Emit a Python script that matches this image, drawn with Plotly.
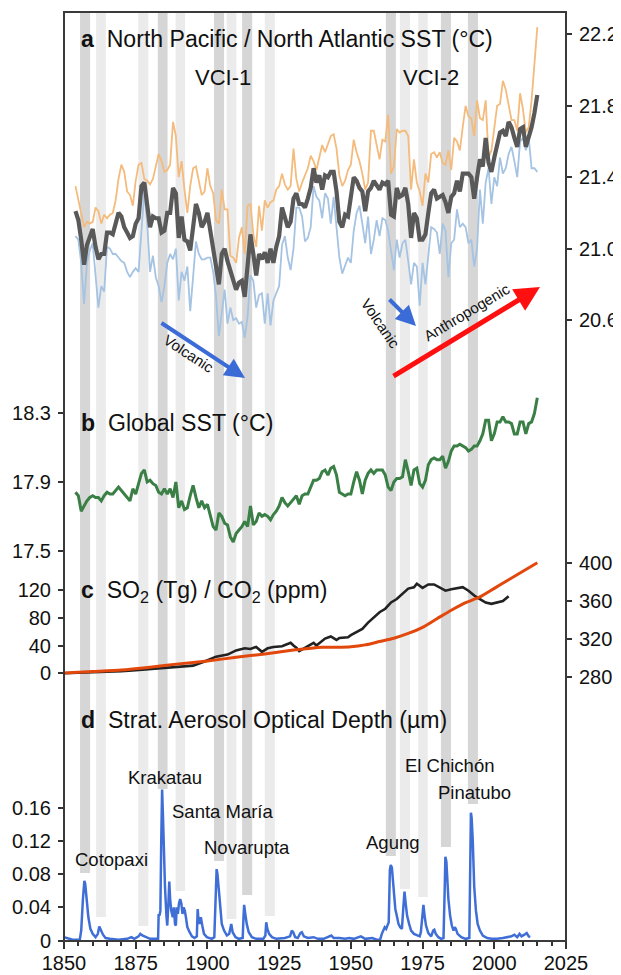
import plotly.graph_objects as go

FONT = "Liberation Sans, Arial, Helvetica, sans-serif"

# ---------------- data ----------------
years_sst = list(range(1854, 2016))

# panel a: North Pacific / North Atlantic SST (deg C)
sst_orange = [
    21.35, 21.27, 21.18, 21.12, 21.15, 21.14, 21.15, 21.23, 21.21, 21.14,
    21.19, 21.17, 21.19, 21.20, 21.27, 21.39, 21.47, 21.43, 21.32, 21.30,
    21.24, 21.38, 21.47, 21.48, 21.39, 21.38, 21.36, 21.39, 21.46, 21.53,
    21.49, 21.43, 21.44, 21.47, 21.71, 21.63, 21.40, 21.49, 21.33, 21.20,
    21.35, 21.45, 21.46, 21.38, 21.30, 21.32, 21.45, 21.35, 21.31, 21.16,
    21.14, 21.33, 21.22, 21.22, 20.96, 20.95, 20.92, 21.06, 21.12, 20.97,
    21.24, 21.25, 21.08, 21.01, 21.24, 21.10, 21.27, 21.23, 21.26, 21.27,
    21.33, 21.35, 21.42, 21.36, 21.33, 21.35, 21.56, 21.39, 21.32, 21.37,
    21.41, 21.45, 21.52, 21.49, 21.44, 21.51, 21.58, 21.54, 21.59, 21.63,
    21.64, 21.56, 21.41, 21.35, 21.38, 21.44, 21.47, 21.61, 21.54, 21.49,
    21.42, 21.33, 21.37, 21.66, 21.66, 21.57, 21.50, 21.61, 21.60, 21.75,
    21.42, 21.46, 21.67, 21.65, 21.66, 21.66, 21.63, 21.33, 21.50, 21.37,
    21.32, 21.24, 21.42, 21.37, 21.53, 21.54, 21.51, 21.54, 21.48, 21.47,
    21.55, 21.44, 21.62, 21.60, 21.55, 21.68, 21.80, 21.74, 21.73, 21.63,
    21.83, 21.73, 21.72, 21.83, 21.51, 21.55, 21.68, 21.80, 21.81, 21.94,
    21.89, 21.80, 21.72, 21.72, 21.66, 21.87, 21.78, 21.65, 21.68, 21.83,
    22.04, 22.24,
]
sst_blue = [
    21.07, 21.05, 20.92, 20.69, 20.92, 20.99, 21.03, 20.84, 20.67, 20.79,
    20.76, 21.01, 21.00, 20.97, 20.97, 20.95, 20.93, 20.92, 20.87, 20.84,
    20.87, 20.89, 20.87, 21.10, 21.32, 21.14, 20.87, 20.96, 20.84, 20.79,
    20.70, 20.79, 20.92, 20.97, 20.94, 21.00, 20.71, 20.87, 20.82, 20.90,
    20.65, 20.84, 21.04, 20.97, 20.94, 20.94, 20.95, 20.95, 20.87, 20.73,
    20.51, 20.64, 20.77, 20.58, 20.67, 20.60, 20.61, 20.58, 20.59, 20.50,
    20.62, 20.85, 20.82, 20.67, 20.74, 20.75, 20.58, 20.75, 20.57, 20.71,
    20.75, 20.79, 21.02, 21.07, 20.95, 20.88, 21.00, 21.23, 21.23, 21.18,
    21.04, 21.06, 21.12, 21.35, 21.29, 21.27, 21.17, 21.31, 21.28, 21.14,
    21.29, 21.10, 20.95, 20.86, 20.90, 20.95, 20.92, 21.10, 21.20, 21.24,
    21.14, 21.03, 21.18, 20.97, 21.05, 21.16, 21.07, 21.17, 21.16, 21.10,
    20.99, 20.88, 21.05, 20.95, 21.03, 21.05, 20.93, 20.80, 20.92, 20.90,
    20.68, 20.92, 20.80, 20.96, 21.12, 21.11, 21.09, 20.97, 21.14, 21.10,
    20.84, 21.03, 21.05, 21.22, 21.12, 21.14, 21.12, 21.03, 21.05, 20.90,
    21.00, 21.33, 21.14, 21.37, 21.45, 21.25, 21.40, 21.35, 21.51, 21.42,
    21.45, 21.53, 21.57, 21.49, 21.40, 21.60, 21.62, 21.55, 21.62, 21.45,
    21.45, 21.43,
]
sst_mean = [
    21.21, 21.16, 21.05, 20.91, 21.02, 21.06, 21.11, 21.01, 20.94, 20.97,
    20.97, 21.09, 21.09, 21.08, 21.14, 21.20, 21.18, 21.12, 21.09, 21.06,
    21.07, 21.14, 21.17, 21.35, 21.37, 21.25, 21.12, 21.18, 21.17, 21.17,
    21.09, 21.10, 21.20, 21.20, 21.34, 21.31, 21.06, 21.18, 21.05, 21.04,
    20.99, 21.12, 21.25, 21.20, 21.12, 21.15, 21.20, 21.10, 21.01, 20.90,
    20.80, 20.97, 21.00, 20.93, 20.87, 20.81, 20.77, 20.81, 20.82, 20.73,
    20.92, 21.08, 20.97, 20.85, 20.97, 20.94, 20.98, 20.92, 21.00, 20.92,
    21.01, 21.07, 21.23, 21.18, 21.12, 21.15, 21.28, 21.31, 21.25, 21.25,
    21.23, 21.28, 21.34, 21.45, 21.37, 21.41, 21.33, 21.41, 21.40, 21.43,
    21.43, 21.32, 21.15, 21.12, 21.19, 21.18, 21.28, 21.40, 21.38, 21.34,
    21.32, 21.21, 21.32, 21.34, 21.38, 21.35, 21.33, 21.37, 21.36, 21.38,
    21.19, 21.18, 21.34, 21.29, 21.30, 21.34, 21.25, 21.06, 21.20, 21.17,
    21.05, 21.05, 21.08, 21.20, 21.31, 21.33, 21.28, 21.29, 21.30, 21.26,
    21.20, 21.29, 21.31, 21.38, 21.32, 21.42, 21.42, 21.42, 21.40, 21.28,
    21.40, 21.50, 21.46, 21.62, 21.48, 21.43, 21.51, 21.57, 21.65, 21.66,
    21.63, 21.71, 21.68, 21.62, 21.57, 21.67, 21.68, 21.57, 21.62, 21.68,
    21.76, 21.86,
]

# panel b: Global SST (deg C)
global_sst = [
    17.84, 17.82, 17.73, 17.76, 17.79, 17.81, 17.82, 17.81, 17.81, 17.79,
    17.82, 17.84, 17.83, 17.83, 17.85, 17.87, 17.85, 17.83, 17.81, 17.79,
    17.86, 17.83, 17.89, 17.95, 17.97, 17.90, 17.91, 17.89, 17.88, 17.84,
    17.83, 17.86, 17.83, 17.86, 17.81, 17.90, 17.75, 17.79, 17.74, 17.75,
    17.82, 17.88, 17.81, 17.75, 17.79, 17.75, 17.77, 17.70, 17.64, 17.62,
    17.72, 17.70, 17.66, 17.65, 17.58, 17.55, 17.60, 17.62, 17.64, 17.67,
    17.64, 17.76, 17.65, 17.67, 17.72, 17.70, 17.71, 17.70, 17.68, 17.71,
    17.73, 17.76, 17.81, 17.78, 17.76, 17.78, 17.80, 17.82, 17.77, 17.82,
    17.83, 17.83, 17.87, 17.91, 17.91, 17.92, 17.96, 17.97, 17.94, 17.98,
    17.99, 17.94, 17.84, 17.83, 17.82, 17.83, 17.83, 17.90, 17.96, 17.91,
    17.83, 17.91, 17.95, 17.97, 17.95, 17.97, 17.97, 17.97, 17.94, 17.87,
    17.85, 17.90, 17.92, 17.92, 17.93, 18.03, 17.96, 17.88, 17.97, 17.98,
    17.89, 17.87, 17.91, 18.00, 18.03, 18.04, 18.03, 18.03, 18.05, 17.98,
    18.02, 18.08, 18.11, 18.11, 18.12, 18.11, 18.10, 18.08, 18.09, 18.11,
    18.11, 18.14, 18.18, 18.26, 18.26, 18.14, 18.18, 18.25, 18.25, 18.28,
    18.25, 18.25, 18.24, 18.18, 18.18, 18.25, 18.25, 18.18, 18.24, 18.25,
    18.30, 18.39,
]

# panel c: SO2 emissions (Tg) and CO2 (ppm)
so2_year = [1850, 1855, 1860, 1865, 1870, 1875, 1880, 1885, 1890, 1895,
            1899, 1903, 1907, 1910, 1913, 1915, 1917, 1918, 1919, 1921,
            1923, 1926, 1929, 1930, 1931, 1932, 1934, 1936, 1937, 1938,
            1940, 1941, 1943, 1945, 1946, 1949, 1950, 1952, 1954, 1956,
            1958, 1960, 1962, 1964, 1966, 1968, 1970, 1972, 1973, 1975,
            1977, 1979, 1981, 1983, 1985, 1987, 1989, 1991, 1993, 1995,
            1997, 1999, 2001, 2003, 2005]
so2_tg = [0, 0.5, 1, 2, 3, 4.5, 6, 8, 10, 11,
          17, 24, 27, 33, 36, 35, 38, 34, 31, 36,
          38, 39, 44, 40, 37, 32, 37, 42, 44, 40,
          47, 50, 53, 48, 51, 52, 55, 59, 64, 73,
          81, 88, 93, 102, 107, 114, 122, 124, 129, 123,
          128, 128, 123, 119, 121, 123, 124, 119, 112, 107,
          102, 100, 102, 104, 111]
co2_year = [1850, 1860, 1870, 1880, 1890, 1900, 1910, 1920, 1930, 1940,
            1945, 1950, 1955, 1960, 1965, 1970, 1975, 1980, 1985, 1990,
            1995, 2000, 2005, 2010, 2015]
co2_ppm = [284.0, 285.5, 287.0, 290.0, 293.5, 296.5, 300.5, 304.0, 308.0, 311.0,
           311.0, 311.5, 313.5, 317.0, 320.5, 325.5, 332.0, 341.0, 350.0, 358.0,
           364.0, 373.0, 382.0, 391.0, 400.0]

# panel d: stratospheric aerosol optical depth
aod_year = [1850.0, 1851.0, 1852.0, 1853.0, 1855.5, 1856.0, 1856.6, 1857.1, 1857.4, 1857.9,
            1858.5, 1859.2, 1860.0, 1861.0, 1861.8, 1862.3, 1862.8, 1863.6, 1864.5, 1866.0,
            1869.0, 1872.0, 1873.5, 1874.5, 1876.0, 1876.6, 1877.3, 1878.5, 1880.0, 1882.8,
            1883.0, 1883.3, 1883.6, 1883.9, 1884.2, 1884.5, 1884.8, 1885.2, 1885.7, 1886.0,
            1886.4, 1886.7, 1887.0, 1887.4, 1887.9, 1888.3, 1888.7, 1889.0, 1889.3, 1889.7,
            1890.1, 1890.5, 1890.9, 1891.3, 1891.7, 1892.1, 1892.5, 1893.0, 1893.8, 1894.6,
            1895.5, 1896.3, 1896.6, 1896.9, 1897.3, 1897.7, 1898.2, 1898.8, 1899.8, 1901.5,
            1902.4, 1902.8, 1903.2, 1903.5, 1903.9, 1904.4, 1905.0, 1905.8, 1906.8, 1907.6,
            1908.0, 1908.3, 1908.8, 1909.8, 1911.0, 1912.3, 1912.6, 1912.8, 1913.2, 1913.7,
            1914.4, 1915.5, 1917.0, 1919.5, 1920.2, 1920.5, 1920.9, 1921.5, 1922.5, 1924.0,
            1927.0, 1928.8, 1929.4, 1929.9, 1930.6, 1931.5, 1932.4, 1932.9, 1933.6, 1935.0,
            1937.0, 1938.5, 1940.5, 1942.7, 1943.2, 1944.0, 1946.0, 1948.0, 1949.5, 1951.0,
            1952.6, 1953.5, 1955.0, 1957.5, 1959.0, 1960.2, 1960.8, 1961.3, 1961.8, 1962.3,
            1962.8, 1963.2, 1963.6, 1963.9, 1964.3, 1964.6, 1965.0, 1965.5, 1966.0, 1966.6,
            1967.2, 1967.8, 1968.3, 1968.7, 1969.1, 1969.6, 1970.3, 1971.0, 1972.0, 1973.0,
            1974.0, 1974.4, 1975.0, 1975.3, 1975.7, 1976.2, 1977.0, 1978.0, 1978.7, 1979.1,
            1979.6, 1980.5, 1981.5, 1982.3, 1982.7, 1982.95, 1983.3, 1983.6, 1984.0, 1984.6,
            1985.2, 1985.8, 1986.2, 1986.6, 1987.2, 1988.5, 1990.0, 1991.3, 1991.6, 1991.85,
            1992.1, 1992.5, 1993.0, 1993.6, 1994.2, 1995.0, 1996.0, 1997.5, 1999.0, 2001.0,
            2003.0, 2004.5, 2006.0, 2007.0, 2008.0, 2008.8, 2009.5, 2010.5, 2011.3, 2012.0,
            2012.5]
aod_value = [0.004, 0.003, 0.002, 0.001, 0.001, 0.012, 0.050, 0.072, 0.068, 0.045,
             0.028, 0.014, 0.008, 0.004, 0.008, 0.017, 0.013, 0.007, 0.003, 0.002,
             0.001, 0.002, 0.004, 0.002, 0.005, 0.008, 0.006, 0.004, 0.002, 0.002,
             0.032, 0.030, 0.036, 0.120, 0.182, 0.150, 0.109, 0.065, 0.030, 0.018,
             0.045, 0.071, 0.050, 0.036, 0.028, 0.040, 0.020, 0.018, 0.040, 0.032,
             0.045, 0.050, 0.045, 0.032, 0.040, 0.036, 0.028, 0.016, 0.010, 0.005,
             0.003, 0.005, 0.038, 0.024, 0.020, 0.028, 0.018, 0.008, 0.004, 0.002,
             0.004, 0.050, 0.086, 0.080, 0.062, 0.038, 0.020, 0.012, 0.006, 0.008,
             0.018, 0.020, 0.010, 0.004, 0.002, 0.003, 0.030, 0.043, 0.032, 0.020,
             0.010, 0.004, 0.002, 0.002, 0.006, 0.022, 0.014, 0.008, 0.004, 0.002,
             0.003, 0.005, 0.012, 0.010, 0.004, 0.003, 0.009, 0.010, 0.005, 0.003,
             0.004, 0.002, 0.002, 0.005, 0.006, 0.003, 0.003, 0.002, 0.003, 0.002,
             0.004, 0.005, 0.002, 0.003, 0.001, 0.001, 0.008, 0.012, 0.016, 0.014,
             0.020, 0.022, 0.085, 0.091, 0.088, 0.075, 0.057, 0.038, 0.030, 0.020,
             0.016, 0.014, 0.040, 0.059, 0.045, 0.030, 0.020, 0.012, 0.008, 0.006,
             0.005, 0.010, 0.040, 0.043, 0.030, 0.018, 0.009, 0.005, 0.012, 0.013,
             0.008, 0.004, 0.002, 0.003, 0.060, 0.101, 0.095, 0.077, 0.050, 0.030,
             0.018, 0.012, 0.016, 0.014, 0.008, 0.004, 0.002, 0.003, 0.080, 0.154,
             0.148, 0.120, 0.065, 0.036, 0.020, 0.012, 0.006, 0.003, 0.002, 0.002,
             0.003, 0.004, 0.005, 0.007, 0.004, 0.008, 0.005, 0.007, 0.009, 0.005,
             0.004]

# volcanic bands: start / end year, shade, lower end (in AOD units)
band_start = [1855.6, 1861.2, 1875.9, 1882.7, 1888.9, 1902.3, 1906.7, 1912.1, 1920.0,
              1962.2, 1967.1, 1973.5, 1981.4, 1990.8]
band_end = [1859.1, 1864.6, 1879.4, 1886.1, 1892.2, 1905.8, 1910.1, 1915.6, 1923.5,
            1965.7, 1970.6, 1976.8, 1984.9, 1994.3]
band_dark = [True, False, False, True, False, True, False, True, False,
             True, False, False, True, True]
band_floor = [0.0813, 0.0283, 0.0175, 0.1825, 0.0596, 0.0958, 0.0259, 0.0548, 0.0295,
              0.1018, 0.0620, 0.0524, 0.1127, 0.1645]

x_ticks = [1850, 1875, 1900, 1925, 1950, 1975, 2000, 2025]

# ---------------- layout helpers ----------------
OFF = 8                      # page body margin in the browser
W, H = 621 - OFF, 975 - OFF  # figure size so that the page is exactly filled
L, R, T, B = 64, 566, 12, 941  # plot-area box in window pixels


def py(pix):
    return (B - pix) / (B - T)


def px(pix):
    return (pix - L) / (R - L)


dom_a = [py(360), 1.0]
rng_a = [20.3764, 22.3249]
dom_b = [py(570), py(380)]
rng_b = [17.3874, 18.4939]
dom_c1 = [py(700), py(575)]
rng_c1 = [-38.46, 141.6]
dom_c2 = [py(700), py(545)]
rng_c2 = [255.47, 418.63]
dom_d = [0.0, py(700)]
rng_d = [-0.0006, 0.2898]

fig = go.Figure()

# panel a
fig.add_trace(go.Scatter(x=years_sst, y=sst_orange, mode="lines", xaxis="x", yaxis="y",
                         line=dict(color="#f4bb7c", width=1.8)))
fig.add_trace(go.Scatter(x=years_sst, y=sst_blue, mode="lines", xaxis="x", yaxis="y",
                         line=dict(color="#a5c3e3", width=1.8)))
fig.add_trace(go.Scatter(x=years_sst, y=sst_mean, mode="lines", xaxis="x", yaxis="y",
                         line=dict(color="#595959", width=4.2)))
# panel b
fig.add_trace(go.Scatter(x=years_sst, y=global_sst, mode="lines", xaxis="x", yaxis="y2",
                         line=dict(color="#3a7f45", width=3)))
# panel c
fig.add_trace(go.Scatter(x=so2_year, y=so2_tg, mode="lines", xaxis="x", yaxis="y3",
                         line=dict(color="#222222", width=2.6)))
fig.add_trace(go.Scatter(x=co2_year, y=co2_ppm, mode="lines", xaxis="x", yaxis="y4",
                         line=dict(color="#e2470c", width=3, shape="spline", smoothing=0.6)))
# panel d
fig.add_trace(go.Scatter(x=aod_year, y=aod_value, mode="lines", xaxis="x", yaxis="y5",
                         line=dict(color="#3f6fd6", width=2.5)))
# carrier for the tick-label axis (no visible marks)
fig.add_trace(go.Scatter(x=[x_ticks[0]], y=[None], mode="lines", xaxis="x2", yaxis="y5",
                         hoverinfo="skip", showlegend=False))

shapes = []
for s, e, dk, fl in zip(band_start, band_end, band_dark, band_floor):
    y0 = dom_d[0] + (fl - rng_d[0]) / (rng_d[1] - rng_d[0]) * (dom_d[1] - dom_d[0])
    shapes.append(dict(type="rect", xref="x", yref="paper", x0=s, x1=e, y0=y0, y1=1,
                       fillcolor="#d6d6d6" if dk else "#ebebeb", line=dict(width=0),
                       layer="below"))
shapes.append(dict(type="rect", xref="paper", yref="paper", x0=0, x1=1, y0=0, y1=1,
                   line=dict(color="#3a3a3a", width=2), layer="above"))

tick_common = dict(ticks="outside", ticklen=5, tickwidth=1.5, tickcolor="#333",
                   showgrid=False, zeroline=False, showline=False, automargin=False,
                   ticklabelstandoff=3,
                   tickfont=dict(size=20, color="#111"), anchor="x")

fig.update_layout(
    width=W, height=H,
    margin=dict(l=L - OFF, r=621 - R, t=T - OFF, b=975 - B, autoexpand=False),
    paper_bgcolor="white", plot_bgcolor="rgba(0,0,0,0)", showlegend=False,
    font=dict(family=FONT, size=20, color="#111"),
    xaxis=dict(range=[1850, 2025], tickvals=x_ticks, ticks="outside", ticklen=7,
               tickwidth=1.5, tickcolor="#333", showgrid=False, zeroline=False,
               showline=False, anchor="y5", automargin=False, showticklabels=False,
               minor=dict(dtick=5, ticklen=4, tickwidth=1.5, tickcolor="#333",
                          ticks="outside", showgrid=False)),
    xaxis2=dict(range=[1850, 2025], overlaying="x", anchor="free", position=0,
                side="bottom", tickvals=x_ticks, ticks="outside", ticklen=4,
                tickcolor="rgba(0,0,0,0)", showgrid=False, zeroline=False,
                showline=False, automargin=False, ticklabelstandoff=0,
                tickfont=dict(size=20, color="#111")),
    yaxis=dict(domain=dom_a, range=rng_a, side="right",
               tickvals=[20.6, 21.0, 21.4, 21.8, 22.2],
               ticktext=["20.6", "21.0", "21.4", "21.8", "22.2"], **tick_common),
    yaxis2=dict(domain=dom_b, range=rng_b, side="left",
                tickvals=[17.5, 17.9, 18.3], ticktext=["17.5", "17.9", "18.3"], **tick_common),
    yaxis3=dict(domain=dom_c1, range=rng_c1, side="left",
                tickvals=[0, 40, 80, 120], ticktext=["0", "40", "80", "120"], **tick_common),
    yaxis4=dict(domain=dom_c2, range=rng_c2, side="right",
                tickvals=[280, 320, 360, 400], ticktext=["280", "320", "360", "400"], **tick_common),
    yaxis5=dict(domain=dom_d, range=rng_d, side="left",
                tickvals=[0, 0.04, 0.08, 0.12, 0.16],
                ticktext=["0", "0.04", "0.08", "0.12", "0.16"], **tick_common),
    shapes=shapes,
)

ann = []


def label(x, y, text, size=22, anchor="left", angle=0):
    ann.append(dict(x=px(x), y=py(y), xref="paper", yref="paper", text=text,
                    showarrow=False, xanchor=anchor, yanchor="middle", textangle=angle,
                    font=dict(family=FONT, size=size, color="#111")))


TS = 23.1
label(79, 39, "<b>a</b>\u00a0\u00a0North Pacific / North Atlantic SST (°C)", size=TS)
label(223, 78, "VCI-1", anchor="center")
label(431, 78, "VCI-2", anchor="center")
label(79, 423, "<b>b</b>\u00a0\u00a0Global SST (°C)", size=TS)
label(79, 591, "<b>c</b>\u00a0\u00a0SO<sub>2</sub> (Tg) / CO<sub>2</sub> (ppm)", size=TS)
label(79, 720, "<b>d</b>\u00a0\u00a0Strat. Aerosol Optical Depth (µm)", size=TS)

for name, xx, yy in [("Cotopaxi", 111, 859), ("Krakatau", 165, 777),
                     ("Santa María", 222, 811), ("Novarupta", 247, 847),
                     ("Agung", 393, 842), ("El Chichón", 449, 765),
                     ("Pinatubo", 474, 792)]:
    label(xx, yy, name, size=18.5, anchor="center")

label(189, 353, "Volcanic", size=15, anchor="center", angle=33)
label(381, 323, "Volcanic", size=15, anchor="center", angle=56)
label(466, 312, "Anthropogenic", size=15, anchor="center", angle=-31)


def arrow(x0, y0, x1, y1, color, width):
    ann.append(dict(x=px(x1), y=py(y1), xref="paper", yref="paper", text="",
                    showarrow=True, ax=x0 - x1, ay=y0 - y1, axref="pixel", ayref="pixel",
                    arrowhead=2, arrowsize=1.0, arrowwidth=width, arrowcolor=color,
                    standoff=0, startstandoff=0))


arrow(160, 322, 245, 378, "#3b6bd6", 4)
arrow(388, 298, 416, 326, "#3b6bd6", 4)
arrow(392, 377, 540, 287, "#ff1010", 5)

fig.update_layout(annotations=ann)
fig.write_html("out.html")
